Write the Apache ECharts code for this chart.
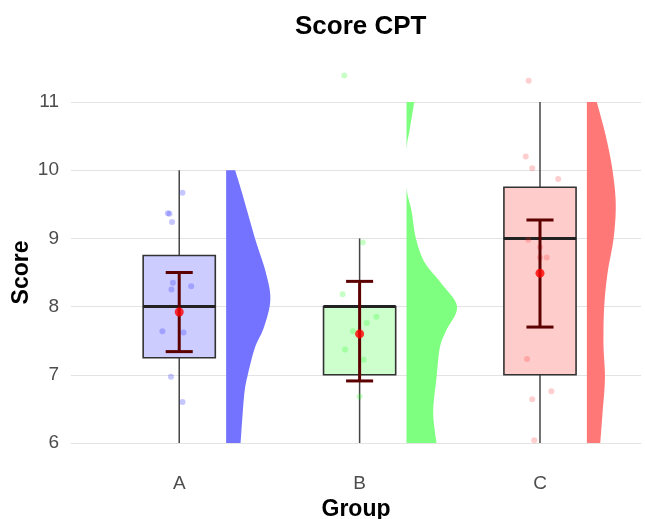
<!DOCTYPE html>
<html>
<head>
<meta charset="utf-8">
<script src="https://cdn.jsdelivr.net/npm/echarts@6/dist/echarts.min.js"></script>
<style>
  html, body { margin: 0; padding: 0; background: #fff; }
  #chart { width: 645px; height: 519px; }
</style>
</head>
<body>
<div id="chart"></div>
<script>
  // groups and box statistics
  var groups = ['A', 'B', 'C'];
  var boxMin = [6, 6, 6];
  var boxQ1 = [7.25, 7, 7];
  var boxMedian = [8, 8, 9];
  var boxQ3 = [8.75, 8, 9.75];
  var boxMax = [10, 9, 11];

  // mean +- error
  var means = [7.92, 7.6, 8.49];
  var errLow = [7.34, 6.91, 7.7];
  var errHigh = [8.5, 8.37, 9.27];

  // jittered raw points [x, score]
  var pointsA = [[1.018, 9.67], [0.937, 9.37], [0.946, 9.36], [0.96, 9.24], [0.965, 8.35], [0.957, 8.25],
    [1.066, 8.3], [0.907, 7.64], [1.024, 7.62], [0.954, 6.97], [1.018, 6.6]];
  var pointsB = [[1.915, 11.39], [2.018, 8.94], [1.906, 8.18], [2.093, 7.85], [2.04, 7.76], [1.963, 7.64],
    [1.919, 7.37], [2.022, 7.22], [2.0, 6.68]];
  var pointsC = [[2.937, 11.31], [2.921, 10.2], [2.957, 10.03], [3.101, 9.87], [2.935, 8.98], [3.0, 8.87],
    [3.0, 8.72], [3.037, 8.72], [2.928, 7.23], [3.063, 6.76], [2.957, 6.64], [2.968, 6.04]];

  // half violin: score levels and density widths
  var violinYA = [6, 6.7, 7, 7.4, 7.7, 8.1, 8.5, 9, 9.65, 10];
  var violinWA = [0.08, 0.1, 0.12, 0.16, 0.21, 0.245, 0.22, 0.16, 0.09, 0.05];
  var violinYB = [6, 6.45, 6.95, 7.4, 7.65, 8, 8.35, 8.65, 9, 9.4, 9.75, 10.3, 10.6, 11];
  var violinWB = [0.166, 0.148, 0.166, 0.185, 0.22, 0.28, 0.19, 0.1, 0.052, 0.028, 0, 0, 0.018, 0.043];
  var violinYC = [6, 6.45, 6.95, 7.45, 8, 8.5, 9, 9.5, 10, 10.5, 11];
  var violinWC = [0.074, 0.087, 0.1, 0.092, 0.096, 0.115, 0.148, 0.16, 0.142, 0.105, 0.055];

  var violinY = [violinYA, violinYB, violinYC];
  var violinW = [violinWA, violinWB, violinWC];
  var violinColors = ['#7373ff', '#7fff7f', '#ff7878'];
  var boxColors = ['#ccccff', '#ccffcc', '#ffcccc'];
  var pointColors = ['rgba(40,40,255,0.32)', 'rgba(40,255,40,0.32)', 'rgba(255,40,40,0.28)'];

  var chart = echarts.init(document.getElementById('chart'));

  function violinItem(params, api) {
    var g = api.value(2);
    var ys = violinY[g], ws = violinW[g];
    var x0 = g + 1 + 0.26;
    var pts = ys.map(function (y, i) { return api.coord([x0 + ws[i], y]); });
    var base = api.coord([x0, ys[0]])[0];
    var curve = [];
    for (var i = 0; i < pts.length - 1; i++) {
      var p0 = pts[Math.max(i - 1, 0)], p1 = pts[i], p2 = pts[i + 1], p3 = pts[Math.min(i + 2, pts.length - 1)];
      for (var s = 0; s < 12; s++) {
        var t = s / 12, t2 = t * t, t3 = t2 * t;
        var p = [0, 1].map(function (k) {
          return 0.5 * (2 * p1[k] + (-p0[k] + p2[k]) * t + (2 * p0[k] - 5 * p1[k] + 4 * p2[k] - p3[k]) * t2 +
            (-p0[k] + 3 * p1[k] - 3 * p2[k] + p3[k]) * t3);
        });
        curve.push([Math.max(p[0], base), p[1]]);
      }
    }
    curve.push(pts[pts.length - 1]);
    var poly = [[base, pts[0][1]]].concat(curve).concat([[base, pts[pts.length - 1][1]]]);
    return { type: 'polygon', shape: { points: poly }, style: { fill: violinColors[g] } };
  }

  function boxItem(params, api) {
    var g = api.value(2);
    var x = g + 1;
    var half = 0.2;
    var lo = api.coord([x, boxMin[g]]), hi = api.coord([x, boxMax[g]]);
    var tl = api.coord([x - half, boxQ3[g]]), br = api.coord([x + half, boxQ1[g]]);
    var ml = api.coord([x - half, boxMedian[g]]), mr = api.coord([x + half, boxMedian[g]]);
    return {
      type: 'group',
      children: [
        { type: 'line', shape: { x1: lo[0], y1: lo[1], x2: hi[0], y2: hi[1] }, style: { stroke: '#444', lineWidth: 1.5 } },
        { type: 'rect', shape: { x: tl[0], y: tl[1], width: br[0] - tl[0], height: br[1] - tl[1] },
          style: { fill: boxColors[g], stroke: '#333', lineWidth: 1.6 } },
        { type: 'line', shape: { x1: ml[0], y1: ml[1], x2: mr[0], y2: mr[1] }, style: { stroke: '#222', lineWidth: 3 } }
      ]
    };
  }

  function errorItem(params, api) {
    var g = api.value(2);
    var x = g + 1;
    var cap = 0.075;
    var top = api.coord([x, errHigh[g]]), bot = api.coord([x, errLow[g]]);
    var tl = api.coord([x - cap, errHigh[g]]), tr = api.coord([x + cap, errHigh[g]]);
    var bl = api.coord([x - cap, errLow[g]]), brr = api.coord([x + cap, errLow[g]]);
    var st = { stroke: '#5c0000', lineWidth: 3 };
    return {
      type: 'group',
      children: [
        { type: 'line', shape: { x1: top[0], y1: top[1], x2: bot[0], y2: bot[1] }, style: st },
        { type: 'line', shape: { x1: tl[0], y1: tl[1], x2: tr[0], y2: tr[1] }, style: st },
        { type: 'line', shape: { x1: bl[0], y1: bl[1], x2: brr[0], y2: brr[1] }, style: st }
      ]
    };
  }

  var groupData = groups.map(function (n, i) { return [i + 1, boxMedian[i], i]; });

  chart.setOption({
    animation: false,
    title: {
      text: 'Score CPT',
      left: 290,
      top: 9,
      textStyle: { fontFamily: 'Liberation Sans', fontSize: 26, fontWeight: 'bold', color: '#000' }
    },
    grid: { left: 71, right: 4, top: 102, bottom: 76, outerBoundsMode: 'none' },
    xAxis: {
      type: 'value',
      min: 0.4,
      max: 3.56,
      name: 'Group',
      nameLocation: 'middle',
      nameGap: 55,
      nameMoveOverlap: false,
      nameTextStyle: { fontFamily: 'Liberation Sans', fontSize: 23, fontWeight: 'bold', color: '#000' },
      axisLine: { show: false },
      axisTick: { show: false },
      splitLine: { show: false },
      axisLabel: {
        customValues: [1, 2, 3],
        formatter: function (v) { return groups[Math.round(v) - 1]; },
        margin: 31,
        fontFamily: 'Liberation Sans',
        fontSize: 19,
        color: '#4d4d4d'
      }
    },
    yAxis: {
      type: 'value',
      min: 6,
      max: 11,
      interval: 1,
      name: 'Score',
      nameLocation: 'middle',
      nameGap: 38,
      nameMoveOverlap: false,
      nameTextStyle: { fontFamily: 'Liberation Sans', fontSize: 23, fontWeight: 'bold', color: '#000' },
      axisLine: { show: false },
      axisTick: { show: false },
      splitLine: { lineStyle: { color: '#e3e3e3', width: 1.2 } },
      axisLabel: { margin: 12, fontFamily: 'Liberation Sans', fontSize: 19, color: '#4d4d4d' }
    },
    series: [
      { type: 'custom', z: 1, renderItem: violinItem, data: groupData, silent: true },
      { type: 'custom', z: 2, renderItem: boxItem, data: groupData, silent: true },
      { type: 'scatter', z: 3, clip: false, data: pointsA, symbolSize: 6, itemStyle: { color: pointColors[0] } },
      { type: 'scatter', z: 3, clip: false, data: pointsB, symbolSize: 6, itemStyle: { color: pointColors[1] } },
      { type: 'scatter', z: 3, clip: false, data: pointsC, symbolSize: 6, itemStyle: { color: pointColors[2] } },
      { type: 'custom', z: 4, renderItem: errorItem, data: groupData, silent: true },
      {
        type: 'scatter', z: 5, symbolSize: 9,
        data: means.map(function (m, i) { return [i + 1, m]; }),
        itemStyle: { color: '#ff0000' }
      }
    ]
  });
</script>
</body>
</html>
